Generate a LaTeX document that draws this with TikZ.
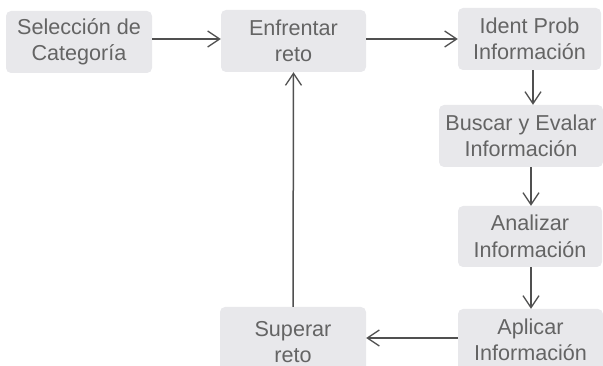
\documentclass[tikz,border=0pt]{standalone}
\usepackage{fontspec}
\setmainfont{Liberation Sans}
\usetikzlibrary{arrows.meta}
\definecolor{boxfill}{HTML}{E8E8EB}
\definecolor{txt}{HTML}{646464}
\definecolor{ln}{HTML}{505050}
\begin{document}
\begin{tikzpicture}[x=1pt,y=-1pt,
  box/.style={fill=boxfill, rounded corners=5pt, inner sep=0pt, align=center,
    text=txt, font=\fontsize{21.6}{26.5}\selectfont},
  conn/.style={draw=ln, line width=1.5pt, -{Straight Barb[length=12pt,width=16pt,line width=1.3pt]}}]
\path[use as bounding box] (0,0) rectangle (603,366);
\node[box, minimum width=146pt, minimum height=62pt] (sel) at (79,42) {Selección de\\Categoría};
\node[box, minimum width=145pt, minimum height=62pt] (enf) at (293.5,41) {Enfrentar\\reto};
\node[box, minimum width=143pt, minimum height=62pt] (ide) at (529.5,39) {Ident Prob\\Información};
\node[box, minimum width=164pt, minimum height=62pt] (bus) at (521,136) {Buscar y Evalar\\Información};
\node[box, minimum width=144pt, minimum height=61pt] (ana) at (530,236.5) {Analizar\\Información};
\node[box, minimum width=145pt, minimum height=62pt] (apl) at (530.5,340) {Aplicar\\Información};
\node[box, minimum width=146pt, minimum height=70pt] (sup) at (293,342) {Superar\\reto};
\draw[conn] (sel.east |- 0,39) -- (enf.west |- 0,39);
\draw[conn] (enf.east |- 0,39) -- (ide.west |- 0,39);
\draw[conn] (ide.south -| 533,0) -- (bus.north -| 533,0);
\draw[conn] (bus.south -| 531,0) -- (ana.north -| 531,0);
\draw[conn] (ana.south -| 531,0) -- (apl.north -| 531,0);
\draw[conn] (apl.west |- 0,338) -- (sup.east |- 0,338);
\draw[conn] (sup.north) -- (enf.south);
\end{tikzpicture}
\end{document}
